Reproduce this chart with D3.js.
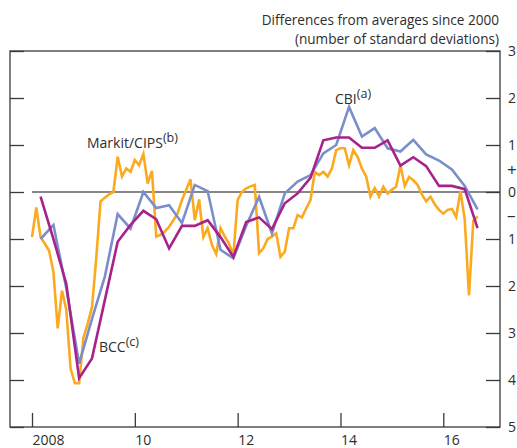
<!DOCTYPE html>
<html>
<head>
<meta charset="utf-8">
<script src="https://cdn.jsdelivr.net/npm/d3@7"></script>
<style>
  body { margin: 0; background: #fff; }
  svg { display: block; font-family: "Open Sans", sans-serif; }
</style>
</head>
<body>
<div id="chart"></div>
<script>
// dimensions of the page and the plot frame
const width = 517;
const height = 448;
const frame = {left: 10, right: 500, top: 51, bottom: 427};

const textColor = "#2e2e2e";
const axisColor = "#3a3a3a";

// series colours
const colors = {
  markit: "#FBAA1F",
  cbi: "#7B8ECB",
  bcc: "#A8228C"
};

// axis ticks
const yearTicks = [2008, 2010, 2012, 2014, 2016];
const yearLabels = ["2008", "10", "12", "14", "16"];
const yTicks = [3, 2, 1, 0, -1, -2, -3, -4, -5];

// CBI, quarterly, 2008 Q1 - 2016 Q3
const cbi = [-1.0, -0.70, -2.05, -3.65, -2.7, -1.8, -0.47, -0.78, 0.0, -0.34,
  -0.28, -0.66, 0.15, 0.02, -1.23, -1.41, -0.72, -0.1, -0.88, -0.03,
  0.22, 0.36, 0.82, 1.0, 1.81, 1.18, 1.36, 0.93, 0.86, 1.11,
  0.80, 0.67, 0.48, 0.13, -0.37];

// BCC, quarterly, 2008 Q1 - 2016 Q3
const bcc = [-0.1, -1.0, -1.95, -3.96, -3.54, -2.3, -1.06, -0.7, -0.4, -0.58,
  -1.2, -0.72, -0.72, -0.6, -0.96, -1.38, -0.64, -0.54, -0.79, -0.24,
  -0.03, 0.3, 1.1, 1.16, 1.16, 0.94, 0.94, 1.1, 0.56, 0.74,
  0.55, 0.13, 0.13, 0.06, -0.77];

// Markit/CIPS, monthly, Jan 2008 - Sep 2016
const markit = [-0.96, -0.33, -0.96, -1.1, -1.25, -1.7, -2.9, -2.1, -2.5, -3.75,
  -4.07, -4.07, -3.1, -2.8, -2.45, -1.4, -0.2, -0.12, -0.05, 0.0,
  0.75, 0.33, 0.5, 0.43, 0.68, 0.57, 0.81, 0.18, 0.45, -0.95,
  -0.91, -0.84, -0.74, -0.6, -0.45, -0.17, 0.05, 0.27, -0.6, -0.16,
  -0.96, -0.77, -1.13, -1.32, -0.77, -0.95, -1.1, -1.34, -0.17, 0.0,
  0.08, 0.12, 0.15, -1.3, -1.2, -1.0, -0.95, -0.88, -1.38, -1.27,
  -0.77, -0.77, -0.49, -0.54, -0.35, -0.17, 0.43, 0.36, 0.43, 0.33,
  0.5, 0.89, 0.93, 0.93, 0.57, 0.89, 0.75, 0.5, 0.33, -0.1,
  0.08, -0.1, 0.11, -0.03, 0.05, 0.11, 0.57, 0.13, 0.32, 0.25,
  0.15, -0.05, -0.2, -0.1, -0.26, -0.38, -0.46, -0.38, -0.36, -0.53,
  0.02, -0.58, -2.2, -0.62, -0.52];

// decimal year of each observation
const monthYear = i => 2008 + i / 12;
const quarterYear = i => 2008 + (2 + 3 * i) / 12;

const x = d3.scaleLinear()
  .domain([2007.572, 2017.103])
  .range([frame.left, frame.right]);

const y = d3.scaleLinear()
  .domain([-5, 3])
  .range([frame.bottom, frame.top]);

const svg = d3.select("#chart").append("svg")
  .attr("width", width)
  .attr("height", height)
  .attr("viewBox", [0, 0, width, height]);

// title
const title = svg.append("g")
    .attr("fill", textColor)
    .attr("font-size", 13.6)
    .attr("text-anchor", "end");
title.append("text").attr("x", 499).attr("y", 25).text("Differences from averages since 2000");
title.append("text").attr("x", 499).attr("y", 44).text("(number of standard deviations)");

// zero line
svg.append("line")
    .attr("x1", x(2008))
    .attr("x2", frame.right)
    .attr("y1", y(0))
    .attr("y2", y(0))
    .attr("stroke", "#111")
    .attr("stroke-width", 1.2);

// left axis: ticks only, pointing inwards
svg.append("g")
    .attr("transform", `translate(${frame.left},0)`)
    .call(d3.axisRight(y).tickValues(yTicks).tickSize(14).tickFormat(""))
    .call(g => g.select(".domain").remove())
    .call(g => g.selectAll("line").attr("stroke", axisColor).attr("stroke-width", 1.3));

// right axis: inward ticks, labels outside
svg.append("g")
    .attr("transform", `translate(${frame.right},0)`)
    .call(d3.axisRight(y).tickValues(yTicks).tickSize(-14).tickPadding(8)
      .tickFormat(d => Math.abs(d)))
    .call(g => g.select(".domain").remove())
    .call(g => g.selectAll("line").attr("stroke", axisColor).attr("stroke-width", 1.3))
    .call(g => g.selectAll("text")
      .attr("fill", textColor)
      .attr("font-size", 14)
      .attr("font-family", "Open Sans, sans-serif"));

// the + / - signs either side of zero
svg.append("g")
    .attr("fill", textColor)
    .attr("font-size", 17)
  .selectAll("text")
  .data([{v: 0.45, s: "+"}, {v: -0.5, s: "\u2013"}])
  .join("text")
    .attr("x", frame.right + 7)
    .attr("y", d => y(d.v))
    .attr("dy", "0.32em")
    .text(d => d.s);

// bottom axis: inward ticks, labels starting at the tick
svg.append("g")
    .attr("transform", `translate(0,${frame.bottom})`)
    .call(d3.axisBottom(x).tickValues(yearTicks).tickSize(-14).tickPadding(8)
      .tickFormat((d, i) => yearLabels[i]))
    .call(g => g.select(".domain").remove())
    .call(g => g.selectAll("line").attr("stroke", axisColor).attr("stroke-width", 1.3))
    .call(g => g.selectAll("text")
      .attr("fill", textColor)
      .attr("font-size", 14)
      .attr("font-family", "Open Sans, sans-serif")
      .attr("text-anchor", "start"));

// frame
svg.append("rect")
    .attr("x", frame.left)
    .attr("y", frame.top)
    .attr("width", frame.right - frame.left)
    .attr("height", frame.bottom - frame.top)
    .attr("fill", "none")
    .attr("stroke", axisColor)
    .attr("stroke-width", 1.3);

// LINES
const line = d3.line()
    .x(d => x(d[0]))
    .y(d => y(d[1]));

const series = [
  {key: "markit", values: markit.map((v, i) => [monthYear(i), v])},
  {key: "cbi", values: cbi.map((v, i) => [quarterYear(i), v])},
  {key: "bcc", values: bcc.map((v, i) => [quarterYear(i), v])}
];

svg.append("g")
    .attr("fill", "none")
    .attr("stroke-width", 2.6)
    .attr("stroke-linejoin", "miter")
  .selectAll("path")
  .data(series)
  .join("path")
    .attr("stroke", d => colors[d.key])
    .attr("d", d => line(d.values));

// series labels with superscript notes
const labels = [
  {name: "CBI", note: "(a)", x: 335, y: 104},
  {name: "Markit/CIPS", note: "(b)", x: 87, y: 148},
  {name: "BCC", note: "(c)", x: 99, y: 352}
];

const label = svg.append("g")
    .attr("fill", textColor)
    .attr("font-size", 14)
  .selectAll("text")
  .data(labels)
  .join("text")
    .attr("x", d => d.x)
    .attr("y", d => d.y);

label.append("tspan").text(d => d.name);
label.append("tspan")
    .attr("dy", -6)
    .attr("font-size", 12.5)
    .text(d => d.note);
</script>
</body>
</html>
